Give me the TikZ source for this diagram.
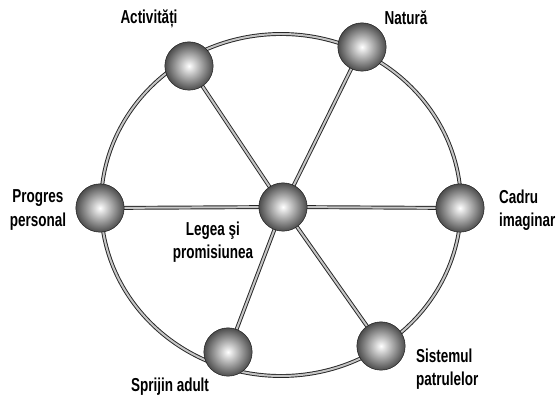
\documentclass[tikz,border=0pt]{standalone}
\usepackage{fontspec}
\newfontfamily\lblfont[FakeStretch=0.72]{Liberation Sans Bold}
\usetikzlibrary{positioning,shadings}

\begin{document}
\begin{tikzpicture}[
    x=0.03cm, y=-0.03cm,
    ball/.style={circle, draw=black!90, thin, shading=radial, inner color=white, outer color=black!70, minimum size=1.45cm, inner sep=0pt},
    rim/.style={draw=black!85, line width=0.8pt, double=gray!45, double distance=1.7pt},
    lbl/.style={font=\lblfont\fontsize{16}{20}\selectfont, inner sep=0pt}
  ]
  \useasboundingbox (0,0) rectangle (560,402);

  % outer wheel
  \draw[rim] (281,205) ellipse [x radius=180, y radius=171];

  \coordinate (hub) at (283,207);
  \draw[rim] (hub) -- (100,208);
  \draw[rim] (hub) -- (460,208);
  \draw[rim] (hub) -- (189,66);
  \draw[rim] (hub) -- (362,47);
  \draw[rim] (hub) -- (228,352);
  \draw[rim] (hub) -- (381,346);

  \node[ball] (C) at (hub) {};
  \node[ball] (P) at (100,208) {};
  \node[ball] (I) at (460,208) {};
  \node[ball] (A) at (189,66) {};
  \node[ball] (N) at (362,47) {};
  \node[ball] (S) at (228,352) {};
  \node[ball] (T) at (381,346) {};

  \node[lbl] (lA) at (149,19) {Activități};
  \node[lbl] (lN) at (406,18) {Natură};
  \node[lbl, align=center] (lP) at (38,210) {Progres\\personal};
  \node[lbl, align=center] (lC) at (213,242) {Legea şi\\promisiunea};
  \node[lbl, align=left, anchor=west] (lI) at (499,210) {Cadru\\imaginar};
  \node[lbl] (lS) at (170,387) {Sprijin adult};
  \node[lbl, align=left, anchor=west] (lT) at (416,369) {Sistemul\\patrulelor};
\end{tikzpicture}
\end{document}
